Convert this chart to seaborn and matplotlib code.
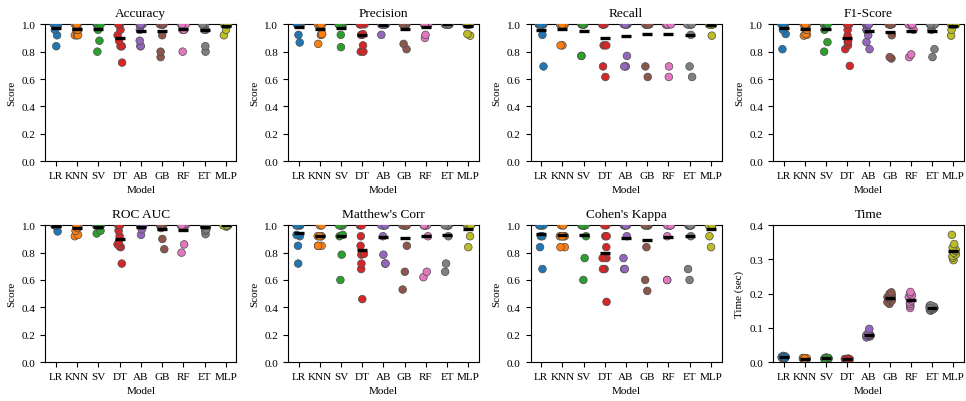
import warnings
import numpy as np
import pandas as pd
import matplotlib
matplotlib.use("Agg")
import matplotlib.pyplot as plt
import seaborn as sns

warnings.filterwarnings("ignore")
np.random.seed(3)  # only for the strip jitter

models = ["LR", "KNN", "SV", "DT", "AB", "GB", "RF", "ET", "MLP"]

# 10-fold scores per model
accuracy = {
    "LR": [0.84, 0.92, 0.96, 1, 1, 1, 1, 1, 1, 1],
    "KNN": [0.92, 0.92, 0.92, 0.96, 0.96, 0.96, 1, 1, 1, 1],
    "SV": [0.80, 0.88, 0.96, 1, 1, 1, 1, 1, 1, 1],
    "DT": [0.72, 0.84, 0.84, 0.84, 0.88, 0.92, 0.96, 1, 1, 1],
    "AB": [0.84, 0.84, 0.88, 0.96, 1, 1, 1, 1, 1, 1],
    "GB": [0.76, 0.80, 0.92, 1, 1, 1, 1, 1, 1, 1],
    "RF": [0.80, 0.96, 0.96, 0.96, 1, 1, 1, 1, 1, 1],
    "ET": [0.80, 0.84, 0.96, 0.96, 1, 1, 1, 1, 1, 1],
    "MLP": [0.92, 0.96, 1, 1, 1, 1, 1, 1, 1, 1],
}
precision = {
    "LR": [0.867, 0.923, 1, 1, 1, 1, 1, 1, 1, 1],
    "KNN": [0.857, 0.923, 0.923, 0.929, 1, 1, 1, 1, 1, 1],
    "SV": [0.833, 0.923, 1, 1, 1, 1, 1, 1, 1, 1],
    "DT": [0.80, 0.80, 0.846, 0.923, 0.923, 0.929, 1, 1, 1, 1],
    "AB": [0.923, 1, 1, 1, 1, 1, 1, 1, 1, 1],
    "GB": [0.818, 0.857, 1, 1, 1, 1, 1, 1, 1, 1],
    "RF": [0.90, 0.923, 1, 1, 1, 1, 1, 1, 1, 1],
    "ET": [1, 1, 1, 1, 1, 1, 1, 1, 1, 1],
    "MLP": [0.917, 0.929, 1, 1, 1, 1, 1, 1, 1, 1],
}
recall = {
    "LR": [0.692, 0.923, 1, 1, 1, 1, 1, 1, 1, 1],
    "KNN": [0.846, 0.846, 1, 1, 1, 1, 1, 1, 1, 1],
    "SV": [0.769, 0.769, 1, 1, 1, 1, 1, 1, 1, 1],
    "DT": [0.615, 0.692, 0.846, 0.846, 1, 1, 1, 1, 1, 1],
    "AB": [0.692, 0.692, 0.769, 1, 1, 1, 1, 1, 1, 1],
    "GB": [0.615, 0.692, 1, 1, 1, 1, 1, 1, 1, 1],
    "RF": [0.615, 0.692, 1, 1, 1, 1, 1, 1, 1, 1],
    "ET": [0.615, 0.692, 0.923, 1, 1, 1, 1, 1, 1, 1],
    "MLP": [0.917, 1, 1, 1, 1, 1, 1, 1, 1, 1],
}
f1_score = {
    "LR": [0.818, 0.929, 0.96, 1, 1, 1, 1, 1, 1, 1],
    "KNN": [0.917, 0.923, 0.929, 0.96, 0.96, 1, 1, 1, 1, 1],
    "SV": [0.80, 0.87, 0.96, 1, 1, 1, 1, 1, 1, 1],
    "DT": [0.696, 0.818, 0.846, 0.87, 0.88, 0.917, 0.96, 1, 1, 1],
    "AB": [0.818, 0.87, 0.92, 0.96, 0.96, 1, 1, 1, 1, 1],
    "GB": [0.75, 0.76, 0.92, 1, 1, 1, 1, 1, 1, 1],
    "RF": [0.76, 0.78, 0.96, 1, 1, 1, 1, 1, 1, 1],
    "ET": [0.76, 0.818, 0.96, 1, 1, 1, 1, 1, 1, 1],
    "MLP": [0.917, 0.96, 1, 1, 1, 1, 1, 1, 1, 1],
}
roc_auc = {
    "LR": [0.955, 1, 1, 1, 1, 1, 1, 1, 1, 1],
    "KNN": [0.92, 0.93, 0.96, 0.98, 1, 1, 1, 1, 1, 1],
    "SV": [0.94, 0.96, 1, 1, 1, 1, 1, 1, 1, 1],
    "DT": [0.72, 0.84, 0.845, 0.86, 0.88, 0.92, 0.96, 1, 1, 1],
    "AB": [0.93, 0.97, 1, 1, 1, 1, 1, 1, 1, 1],
    "GB": [0.825, 0.90, 0.98, 1, 1, 1, 1, 1, 1, 1],
    "RF": [0.80, 0.86, 1, 1, 1, 1, 1, 1, 1, 1],
    "ET": [0.935, 0.96, 0.97, 1, 1, 1, 1, 1, 1, 1],
    "MLP": [0.99, 1, 1, 1, 1, 1, 1, 1, 1, 1],
}
matthews_corr = {
    "LR": [0.72, 0.85, 0.92, 0.93, 1, 1, 1, 1, 1, 1],
    "KNN": [0.85, 0.85, 0.85, 0.92, 0.92, 0.92, 0.92, 1, 1, 1],
    "SV": [0.60, 0.785, 0.92, 0.93, 1, 1, 1, 1, 1, 1],
    "DT": [0.46, 0.68, 0.72, 0.785, 0.79, 0.85, 0.92, 1, 1, 1],
    "AB": [0.72, 0.72, 0.785, 0.92, 1, 1, 1, 1, 1, 1],
    "GB": [0.53, 0.66, 0.85, 1, 1, 1, 1, 1, 1, 1],
    "RF": [0.62, 0.66, 0.92, 1, 1, 1, 1, 1, 1, 1],
    "ET": [0.66, 0.72, 0.92, 1, 1, 1, 1, 1, 1, 1],
    "MLP": [0.84, 0.92, 1, 1, 1, 1, 1, 1, 1, 1],
}
cohens_kappa = {
    "LR": [0.68, 0.84, 0.92, 0.92, 1, 1, 1, 1, 1, 1],
    "KNN": [0.84, 0.84, 0.92, 0.92, 0.92, 0.92, 0.92, 1, 1, 1],
    "SV": [0.60, 0.76, 0.92, 1, 1, 1, 1, 1, 1, 1],
    "DT": [0.44, 0.68, 0.68, 0.76, 0.76, 0.84, 0.92, 0.92, 1, 1],
    "AB": [0.68, 0.68, 0.76, 0.92, 1, 1, 1, 1, 1, 1],
    "GB": [0.52, 0.60, 0.84, 1, 1, 1, 1, 1, 1, 1],
    "RF": [0.60, 0.60, 0.92, 1, 1, 1, 1, 1, 1, 1],
    "ET": [0.60, 0.68, 0.92, 1, 1, 1, 1, 1, 1, 1],
    "MLP": [0.84, 0.92, 1, 1, 1, 1, 1, 1, 1, 1],
}
fit_time = {
    "LR": [0.010, 0.012, 0.013, 0.015, 0.018, 0.011, 0.014, 0.012, 0.016, 0.013],
    "KNN": [0.008, 0.009, 0.010, 0.011, 0.012, 0.009, 0.010, 0.008, 0.011, 0.010],
    "SV": [0.009, 0.010, 0.011, 0.012, 0.013, 0.010, 0.011, 0.009, 0.012, 0.010],
    "DT": [0.006, 0.007, 0.008, 0.009, 0.010, 0.007, 0.008, 0.006, 0.009, 0.008],
    "AB": [0.072, 0.075, 0.076, 0.078, 0.078, 0.079, 0.080, 0.082, 0.085, 0.097],
    "GB": [0.170, 0.175, 0.180, 0.185, 0.187, 0.190, 0.192, 0.195, 0.200, 0.204],
    "RF": [0.158, 0.165, 0.170, 0.175, 0.180, 0.185, 0.190, 0.195, 0.200, 0.205],
    "ET": [0.150, 0.152, 0.154, 0.156, 0.158, 0.160, 0.162, 0.164, 0.166, 0.158],
    "MLP": [0.298, 0.305, 0.310, 0.315, 0.320, 0.325, 0.330, 0.335, 0.345, 0.372],
}

panels = [
    ("Accuracy", accuracy), ("Precision", precision), ("Recall", recall),
    ("F1-Score", f1_score), ("ROC AUC", roc_auc), ("Matthew's Corr", matthews_corr),
    ("Cohen's Kappa", cohens_kappa), ("Time", fit_time),
]


def to_long(scores: dict, name: str) -> pd.DataFrame:
    rows = [(m, v) for m in models for v in scores[m]]
    return pd.DataFrame(rows, columns=["Model", name])


plt.rcParams["font.family"] = ["Liberation Serif", "DejaVu Serif"]
plt.rcParams["font.size"] = 8
plt.rcParams["axes.titlesize"] = 9.6
plt.rcParams["axes.labelsize"] = 8
plt.rcParams["xtick.labelsize"] = 8
plt.rcParams["ytick.labelsize"] = 8

fig, axes = plt.subplots(2, 4, figsize=(9.66, 4.02), dpi=100)
palette = sns.color_palette("tab10", len(models))

for ax, (name, scores) in zip(axes.flat, panels):
    df = to_long(scores, name)
    sns.stripplot(data=df, x="Model", y=name, hue="Model", order=models,
                  hue_order=models, palette=palette, size=5.5, linewidth=0.5,
                  edgecolor="0.3", jitter=0.12, legend=False, ax=ax)
    # mean of the folds as a short black bar, kept on top of the dots
    sns.pointplot(data=df, x="Model", y=name, order=models, errorbar=None,
                  color="black", marker="_", linestyle="none",
                  markersize=7.5, markeredgewidth=2.4, zorder=10, ax=ax)
    ax.set_title(name)
    ax.set_xlabel("Model")
    if name == "Time":
        ax.set_ylim(0, 0.4)
        ax.set_yticks(np.arange(0, 0.41, 0.1))
        ax.set_ylabel("Time (sec)")
    else:
        ax.set_ylim(0, 1.0)
        ax.set_yticks(np.arange(0, 1.01, 0.2))
        ax.set_ylabel("Score")
    ax.yaxis.set_major_formatter(matplotlib.ticker.FormatStrFormatter("%.1f"))

plt.subplots_adjust(left=0.047, right=0.998, top=0.937, bottom=0.097,
                    wspace=0.27, hspace=0.47)
fig.savefig("out.png", dpi=100)
